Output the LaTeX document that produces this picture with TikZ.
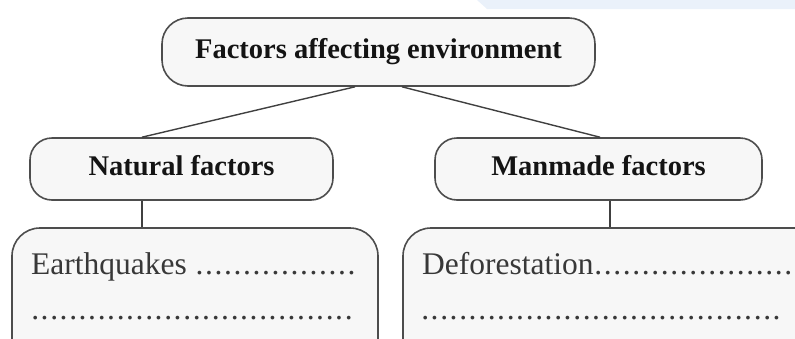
\documentclass[tikz,border=0pt]{standalone}
\usepackage{fontspec}
\setmainfont{Liberation Serif}
\usetikzlibrary{calc}
\definecolor{boxline}{HTML}{4D4D4D}
\definecolor{boxfill}{HTML}{F7F7F7}
\definecolor{bandblue}{HTML}{EAF1FA}
\newcommand{\dotrow}[1]{\foreach \i in {1,...,#1}{\makebox[9.5pt]{.}}}
\tikzset{
  factorbox/.style={draw=boxline, fill=boxfill, line width=1.6pt, rounded corners=#1, inner sep=0pt},
  factorbox/.default=24pt,
  headtext/.style={font=\fontsize{28.5}{30}\selectfont\bfseries, text=black!92, text height=20pt, text depth=8pt},
  listtext/.style={font=\fontsize{31.5}{36}\selectfont, text=black!78, inner sep=0pt, anchor=base west},
  link/.style={draw=black!75, line width=1.4pt}
}

\begin{document}
\begin{tikzpicture}[x=1pt,y=-1pt]
    \def\W{795}
    \def\H{338}
    \useasboundingbox (0,0) rectangle (\W,\H);
    \clip (0,0) rectangle (\W,\H);
    % faint band at the top
    \fill[bandblue] (477,0) -- (\W,0) -- (\W,9) -- (487,9) -- cycle;
    % Draw the boxes
    \node[factorbox=26pt, headtext, minimum width=433pt, minimum height=68pt] (top) at (378.5,52) {Factors affecting environment};
    \node[factorbox=22pt, headtext, minimum width=303pt, minimum height=62pt] (nat) at (181.5,169) {Natural factors};
    \node[factorbox=22pt, headtext, minimum width=327pt, minimum height=62pt] (man) at (598.5,169) {Manmade factors};
    \node[factorbox=28pt, minimum width=366pt, minimum height=140pt] (natlist) at (195,298) {};
    \node[factorbox=28pt, minimum width=437pt, minimum height=140pt] (manlist) at (621.5,298) {};
    % the texts
    \node[listtext] (quake) at (31,274) {Earthquakes \dotrow{17}};
    \node[listtext] (natdots) at (30.25,319) {\dotrow{34}};
    \node[listtext] (forest) at (422,274) {Deforestation\dotrow{21}};
    \node[listtext] (mandots) at (420.25,319) {\dotrow{38}};
    % connectors
    \draw[link] ([xshift=-23.5pt]top.south) -- ([xshift=-39.5pt]nat.north);
    \draw[link] ([xshift=23.5pt]top.south) -- ([xshift=1.5pt]man.north);
    \draw[link] ([xshift=-39.5pt]nat.south) -- ([xshift=-39.5pt]nat.south |- natlist.north);
    \draw[link] ([xshift=11.5pt]man.south) -- ([xshift=11.5pt]man.south |- manlist.north);
\end{tikzpicture}
\end{document}
